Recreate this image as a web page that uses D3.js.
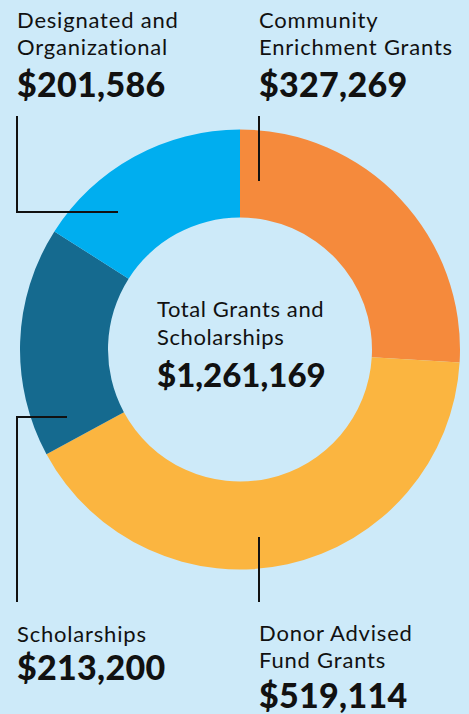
<!DOCTYPE html>
<html>
<head>
<meta charset="utf-8">
<script src="https://cdn.jsdelivr.net/npm/d3@7"></script>
<style>
  html, body { margin: 0; padding: 0; background: #cdeaf9; }
  svg { display: block; font-family: Lato, "Open Sans", sans-serif; }
</style>
</head>
<body>
<div id="chart"></div>
<script>
// grant categories, clockwise from 12 o'clock
const categories = ["Community Enrichment Grants", "Donor Advised Fund Grants", "Scholarships", "Designated and Organizational"];
const amounts = [327269, 519114, 213200, 201586];
const labelLines = [
  ["Community", "Enrichment Grants"],
  ["Donor Advised", "Fund Grants"],
  ["Scholarships"],
  ["Designated and", "Organizational"]
];
const colors = ["#f58a3c", "#fbb540", "#156a8f", "#00aeef"];
const totalLines = ["Total Grants and", "Scholarships"];

const width = 469, height = 714;
const cx = 240, cy = 349.5;
const outerR = 220, innerR = 132;

const fmt = d3.format("$,");

const svg = d3.select('#chart')
  .append('svg')
  .attr('width', width)
  .attr('height', height);

svg.append('rect')
  .attr('width', width)
  .attr('height', height)
  .attr('fill', '#cdeaf9');

const pie = d3.pie().sort(null).value(d => d);
const arc = d3.arc().innerRadius(innerR).outerRadius(outerR);

const donut = svg.append('g')
  .attr('transform', `translate(${cx},${cy})`);

donut.selectAll('path')
  .data(pie(amounts))
  .join('path')
  .attr('d', arc)
  .attr('fill', (d, i) => colors[i]);

// label blocks: x, first baseline, value baseline
const blocks = [
  { x: 259, y: 28, value: 97 },
  { x: 259, y: 641, value: 708 },
  { x: 17, y: 642, value: 680 },
  { x: 17, y: 28, value: 97 }
];

// leader lines (callout paths)
const leaders = [
  [[259, 116], [259, 181]],
  [[259, 537], [259, 602]],
  [[67, 417], [17, 417], [17, 602]],
  [[17, 116], [17, 212], [118, 212]]
];

svg.selectAll('.leader')
  .data(leaders)
  .join('path')
  .attr('class', 'leader')
  .attr('d', d3.line())
  .attr('fill', 'none')
  .attr('stroke', '#111')
  .attr('stroke-width', 2);

const labels = svg.selectAll('.label')
  .data(categories)
  .join('g')
  .attr('class', 'label');

labels.each(function(name, i) {
  const g = d3.select(this);
  const b = blocks[i];
  labelLines[i].forEach((line, j) => {
    g.append('text')
      .attr('x', b.x)
      .attr('y', b.y + j * 27)
      .attr('font-size', 22)
      .attr('letter-spacing', 0.8)
      .attr('fill', '#111')
      .text(line);
  });
  g.append('text')
    .attr('x', b.x)
    .attr('y', b.value)
    .attr('font-size', 34)
    .attr('font-weight', 900)
    .attr('letter-spacing', 0.3)
    .attr('fill', '#111')
    .text(fmt(amounts[i]));
});

const center = svg.append('g').attr('class', 'center');
totalLines.forEach((line, j) => {
  center.append('text')
    .attr('x', 157)
    .attr('y', 317 + j * 28)
    .attr('font-size', 22)
    .attr('letter-spacing', 0.6)
    .attr('fill', '#111')
    .text(line);
});
center.append('text')
  .attr('x', 157)
  .attr('y', 387)
  .attr('font-size', 33)
  .attr('font-weight', 900)
  .attr('fill', '#111')
  .text(fmt(d3.sum(amounts)));
</script>
</body>
</html>
